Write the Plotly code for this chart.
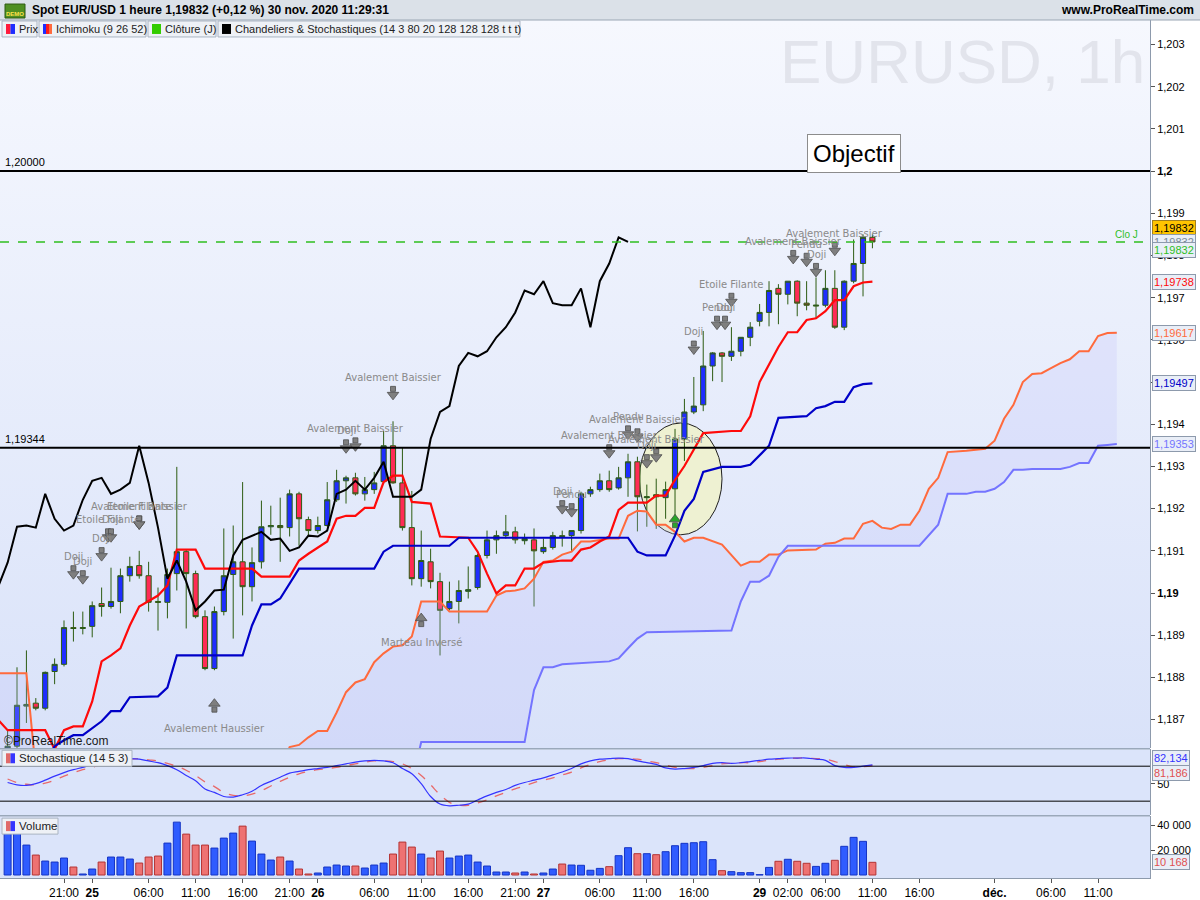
import base64
import plotly.graph_objects as go

# one bar per hour; bar 0 = Tue 24 Nov 21:00 (weekend hours skipped)
bars = list(range(-6, 87))

opens = [1.18621, 1.18637, 1.18732, 1.18739, 1.18727, 1.18814,
         1.18831, 1.18918, 1.18916, 1.18921, 1.18975, 1.18968, 1.18980, 1.19041, 1.19065, 1.19041,
         1.18980, 1.18978, 1.19046, 1.19098, 1.19046, 1.18944, 1.18821, 1.18956, 1.19044, 1.19074,
         1.19015, 1.19074, 1.19157, 1.19160, 1.19155, 1.19235, 1.19174, 1.19148, 1.19160, 1.19221,
         1.19266, 1.19273, 1.19235, 1.19245, 1.19264, 1.19349, 1.19261, 1.19155, 1.19034, 1.19074,
         1.19027, 1.18963, 1.18980, 1.19004, 1.19013, 1.19089, 1.19126, 1.19136, 1.19145, 1.19124,
         1.19126, 1.19098, 1.19108, 1.19136, 1.19136, 1.19148, 1.19235, 1.19245, 1.19266, 1.19249,
         1.19273, 1.19311, 1.19226, 1.19233, 1.19226, 1.19247, 1.19365, 1.19429, 1.19446, 1.19538,
         1.19569, 1.19561, 1.19573, 1.19606, 1.19644, 1.19665, 1.19722, 1.19708, 1.19739, 1.19687,
         1.19680, 1.19682, 1.19722, 1.19630, 1.19739, 1.19781, 1.19843]
highs = [1.18675, 1.18824, 1.18864, 1.18751, 1.18814, 1.18845,
         1.18935, 1.18956, 1.18956, 1.18980, 1.19013, 1.19060, 1.19058, 1.19086, 1.19100, 1.19074,
         1.19013, 1.19058, 1.19299, 1.19103, 1.19053, 1.18959, 1.18968, 1.19153, 1.19160, 1.19263,
         1.19108, 1.19219, 1.19207, 1.19226, 1.19245, 1.19240, 1.19181, 1.19181, 1.19263, 1.19292,
         1.19278, 1.19285, 1.19275, 1.19287, 1.19384, 1.19407, 1.19344, 1.19242, 1.19148, 1.19105,
         1.19048, 1.19027, 1.19030, 1.19063, 1.19093, 1.19148, 1.19148, 1.19185, 1.19157, 1.19141,
         1.19153, 1.19129, 1.19145, 1.19148, 1.19148, 1.19240, 1.19252, 1.19283, 1.19290, 1.19299,
         1.19330, 1.19323, 1.19257, 1.19271, 1.19264, 1.19389, 1.19460, 1.19512, 1.19621, 1.19571,
         1.19571, 1.19630, 1.19606, 1.19642, 1.19685, 1.19739, 1.19732, 1.19739, 1.19741, 1.19739,
         1.19748, 1.19765, 1.19765, 1.19741, 1.19838, 1.19850, 1.19850]
lows = [1.18609, 1.18628, 1.18692, 1.18722, 1.18722, 1.18784,
        1.18826, 1.18885, 1.18902, 1.18895, 1.18944, 1.18963, 1.18952, 1.19027, 1.19034, 1.18956,
        1.18911, 1.18940, 1.19006, 1.18916, 1.18940, 1.18817, 1.18817, 1.18947, 1.18892, 1.18947,
        1.18980, 1.19058, 1.19138, 1.19074, 1.19134, 1.19112, 1.19136, 1.19141, 1.19157, 1.19216,
        1.19212, 1.19231, 1.19219, 1.19235, 1.19259, 1.19259, 1.19148, 1.19018, 1.19015, 1.19011,
        1.18852, 1.18959, 1.18928, 1.18987, 1.19008, 1.19082, 1.19093, 1.19129, 1.19117, 1.19115,
        1.18968, 1.19093, 1.19103, 1.19110, 1.19098, 1.19141, 1.19228, 1.19240, 1.19240, 1.19245,
        1.19228, 1.19146, 1.19157, 1.19152, 1.19176, 1.19183, 1.19313, 1.19424, 1.19431, 1.19502,
        1.19500, 1.19550, 1.19561, 1.19585, 1.19632, 1.19632, 1.19637, 1.19684, 1.19656, 1.19670,
        1.19651, 1.19677, 1.19626, 1.19623, 1.19734, 1.19703, 1.19817]
closes = [1.18637, 1.18734, 1.18736, 1.18727, 1.18812, 1.18831,
          1.18918, 1.18916, 1.18918, 1.18970, 1.18968, 1.18980, 1.19041, 1.19063, 1.19041, 1.18978,
          1.18978, 1.19044, 1.19098, 1.19046, 1.18944, 1.18821, 1.18956, 1.19041, 1.19074, 1.19015,
          1.19072, 1.19157, 1.19160, 1.19155, 1.19235, 1.19176, 1.19148, 1.19160, 1.19221, 1.19266,
          1.19273, 1.19235, 1.19245, 1.19261, 1.19349, 1.19261, 1.19155, 1.19034, 1.19077, 1.19027,
          1.18959, 1.18980, 1.19006, 1.19008, 1.19089, 1.19126, 1.19136, 1.19145, 1.19126, 1.19129,
          1.19100, 1.19108, 1.19136, 1.19134, 1.19148, 1.19235, 1.19245, 1.19266, 1.19245, 1.19273,
          1.19311, 1.19228, 1.19228, 1.19228, 1.19245, 1.19365, 1.19429, 1.19443, 1.19538, 1.19569,
          1.19561, 1.19573, 1.19606, 1.19630, 1.19665, 1.19717, 1.19708, 1.19739, 1.19687, 1.19682,
          1.19682, 1.19722, 1.19630, 1.19739, 1.19781, 1.19843, 1.19832]
volumes = [33600, 33600, 24000, 16000, 11200, 10400,
           13600, 6400, 800, 4800, 10400, 14400, 14400, 12800, 9600, 14400,
           15200, 25600, 42400, 32800, 24000, 24000, 21600, 29600, 33600, 39200,
           27200, 16800, 12000, 14400, 11200, 4800, 800, 1600, 6400, 8000,
           7200, 7200, 5600, 8000, 9600, 16800, 26400, 22400, 16800, 13600,
           19200, 13600, 15200, 16000, 10400, 7200, 2400, 2400, 1600, 2400,
           800, 1600, 4800, 8800, 8000, 7800, 3800, 5300, 6700, 15500,
           21900, 17100, 17100, 16300, 18700, 23500, 25400, 25900, 26700, 12300,
           3500, 2700, 1900, 1900, 300, 6100, 11000, 12600, 11000, 9400,
           6900, 9400, 11800, 23000, 30200, 27000, 10168]
stoch_k = [52, 48, 47, 50, 56, 63,
           69, 74, 78, 83, 87, 91, 93, 93, 92, 89,
           86, 81, 74, 64, 55, 41, 35, 28, 27, 31,
           37, 47, 54, 61, 68, 71, 74, 76, 78, 81,
           84, 87, 89, 90, 89, 86, 76, 67, 50, 28,
           15, 12, 13, 15, 22, 29, 35, 40, 47, 52,
           56, 60, 65, 70, 76, 84, 89, 92, 93, 94,
           93, 89, 86, 83, 77, 75, 76, 78, 81, 85,
           86, 85, 86, 88, 90, 92, 93, 94, 94, 94,
           92, 90, 81, 78, 78, 80, 82.134]
stoch_d = [58, 52, 49, 48, 51, 56,
           63, 69, 74, 78, 83, 87, 90, 92, 93, 91,
           89, 85, 80, 73, 64, 53, 45, 35, 30, 29,
           32, 38, 46, 54, 61, 67, 71, 74, 76, 78,
           81, 84, 87, 89, 89, 88, 84, 76, 64, 48,
           31, 18, 13, 13, 17, 22, 29, 35, 41, 46,
           52, 56, 60, 65, 70, 77, 83, 88, 91, 93,
           93, 92, 89, 86, 82, 78, 76, 76, 78, 81,
           84, 85, 86, 86, 88, 90, 92, 93, 94, 94,
           93, 92, 88, 83, 79, 79, 81.186]

# Ichimoku lines (points where the line bends)
tenkan_x = [-7, -6, -2, -1, 0, 1, 2, 3, 4, 5, 6, 7, 8, 9, 10, 11, 12, 14, 15, 20, 21, 24, 25, 26, 28,
            29, 30, 31, 32, 33, 34, 35, 36, 37, 39, 40, 43, 44, 45, 46, 47, 48, 49, 50, 51, 53, 54,
            55, 56, 57, 58, 59, 60, 62, 63, 64, 65, 66, 67, 68, 71, 72, 73, 74, 76, 77, 78, 79, 80,
            81, 82, 83, 84, 85, 86]
tenkan_y = [1.18699, 1.18675, 1.18675, 1.18630, 1.18675, 1.18684, 1.18684, 1.18743, 1.18838, 1.18852,
            1.18869, 1.18923, 1.18968, 1.18980, 1.18994, 1.19018, 1.19103, 1.19103, 1.19058, 1.19058,
            1.19039, 1.19039, 1.19077, 1.19093, 1.19122, 1.19176, 1.19183, 1.19183, 1.19202, 1.19202,
            1.19263, 1.19278, 1.19278, 1.19216, 1.19212, 1.19134, 1.19131, 1.19098, 1.19046, 1.18999,
            1.19018, 1.19018, 1.19058, 1.19058, 1.19072, 1.19077, 1.19077, 1.19103, 1.19108, 1.19122,
            1.19134, 1.19197, 1.19214, 1.19214, 1.19231, 1.19231, 1.19268, 1.19301, 1.19341, 1.19379,
            1.19384, 1.19384, 1.19419, 1.19500, 1.19583, 1.19618, 1.19618, 1.19647, 1.19651, 1.19668,
            1.19694, 1.19694, 1.19727, 1.19736, 1.19738]
kijun_x = [-2, -1, 0, 1, 2, 3, 4, 5, 6, 7, 10, 11, 12, 19, 20, 21, 22, 23, 25, 33, 34, 35, 41, 42,
           60, 61, 62, 64, 65, 66, 67, 68, 70, 72, 73, 75, 76, 79, 80, 81, 82, 83, 84, 85, 86]
kijun_y = [1.18597, 1.18637, 1.18651, 1.18663, 1.18663, 1.18680, 1.18696, 1.18720, 1.18720, 1.18753,
           1.18755, 1.18776, 1.18852, 1.18852, 1.18923, 1.18973, 1.18973, 1.18987, 1.19058, 1.19058,
           1.19098, 1.19112, 1.19112, 1.19131, 1.19131, 1.19098, 1.19089, 1.19089, 1.19136, 1.19195,
           1.19223, 1.19287, 1.19299, 1.19299, 1.19304, 1.19349, 1.19415, 1.19419, 1.19438, 1.19443,
           1.19453, 1.19453, 1.19488, 1.19495, 1.19497]
ssa_x = [-7, -4, -3, 23, 24, 25, 26, 27, 28, 29, 30, 31, 32, 33, 34, 35, 36, 37, 38, 40, 41, 45, 46,
         47, 48, 49, 50, 51, 52, 53, 54, 55, 56, 57, 58, 59, 60, 61, 62, 63, 64, 65, 66, 67, 68, 70,
         72, 73, 74, 75, 76, 77, 80, 81, 82, 83, 84, 85, 86, 87, 88, 89, 90, 91, 92, 93, 94, 96, 97,
         98, 99, 100, 101, 102, 103, 104, 105, 106, 107, 108, 109, 110, 111, 112]
ssa_y = [1.18810, 1.18810, 1.18580, 1.18580, 1.18635, 1.18640, 1.18658, 1.18673, 1.18673, 1.18717,
         1.18765, 1.18788, 1.18796, 1.18836, 1.18857, 1.18873, 1.18876, 1.18897, 1.18980, 1.18980,
         1.18956, 1.18956, 1.18994, 1.19004, 1.19006, 1.19011, 1.19034, 1.19074, 1.19077, 1.19091,
         1.19098, 1.19122, 1.19122, 1.19126, 1.19129, 1.19129, 1.19183, 1.19195, 1.19193, 1.19162,
         1.19162, 1.19145, 1.19122, 1.19131, 1.19131, 1.19115, 1.19065, 1.19074, 1.19074, 1.19091,
         1.19091, 1.19101, 1.19103, 1.19117, 1.19119, 1.19129, 1.19129, 1.19164, 1.19171, 1.19155,
         1.19152, 1.19162, 1.19162, 1.19195, 1.19247, 1.19273, 1.19334, 1.19337, 1.19339, 1.19342,
         1.19361, 1.19413, 1.19446, 1.19500, 1.19519, 1.19521, 1.19533, 1.19545, 1.19554, 1.19573,
         1.19573, 1.19609, 1.19616, 1.19617]
ssb_x = [-7, 37, 38, 49, 50, 51, 52, 53, 58, 59, 60, 61, 62, 71, 72, 73, 74, 75, 76, 77, 91, 92, 93,
         94, 96, 97, 98, 99, 100, 101, 102, 103, 106, 107, 108, 109, 110, 111, 112]
ssb_y = [1.18550, 1.18550, 1.18647, 1.18647, 1.18770, 1.18824, 1.18824, 1.18831, 1.18838, 1.18845,
         1.18869, 1.18892, 1.18907, 1.18911, 1.18980, 1.19027, 1.19027, 1.19041, 1.19086, 1.19112,
         1.19112, 1.19136, 1.19162, 1.19235, 1.19235, 1.19240, 1.19240, 1.19247, 1.19263, 1.19292,
         1.19292, 1.19294, 1.19294, 1.19299, 1.19308, 1.19308, 1.19349, 1.19351, 1.19353]

# candle patterns: (bar, name, direction)
patterns = [
    (1, "Doji", "down"), (2, "Doji", "down"), (4, "Doji", "down"),
    (5, "Etoile Filante", "down"), (5, "Doji", "down"),
    (8, "Etoile Filante", "down"), (8, "Avalement Baissier", "down"),
    (16, "Avalement Haussier", "up"),
    (30, "Doji", "down"), (31, "Avalement Baissier", "down"),
    (35, "Avalement Baissier", "down"), (38, "Marteau Inversé", "up"),
    (53, "Doji", "down"), (54, "Pendu", "down"),
    (58, "Avalement Baissier", "down"), (60, "Pendu", "down"),
    (61, "Avalement Baissier", "down"), (62, "Doji", "down"),
    (63, "Avalement Baissier", "down"), (67, "Doji", "down"),
    (70, "Pendu", "down"), (70, "Doji", "down"), (71, "Etoile Filante", "down"),
    (78, "Avalement Baissier", "down"), (79, "Pendu", "down"), (80, "Doji", "down"),
    (82, "Avalement Baissier", "down"),
]
pattern_gap = [40, 35, 34, 33, 33, 29, 29, 36, 30, 29, 29, 34, 24, 21, 20, 22, 22, 24, 24, 30,
               30, 30, 28, 24, 22, 8, 22]
pattern_dx = [0, 0, 0, -3, 0, 0, 0, 0, 0, 0, 0, 0, 0, 0, 0, 0, 0, 0, 0, 0, -5, 3, 0, -4, 0, 0, 0]
buy_signal_bars = [65]

x_tick_bars = [0, 3, 9, 14, 19, 24, 27, 33, 38, 43, 48, 51, 57, 62, 67, 74, 77, 81, 86, 91, 99, 105, 110]
x_tick_text = ["21:00", "<b>25</b>", "06:00", "11:00", "16:00", "21:00", "<b>26</b>", "06:00", "11:00",
               "16:00", "21:00", "<b>27</b>", "06:00", "11:00", "16:00", "<b>29</b>", "02:00", "06:00",
               "11:00", "16:00", "<b>déc.</b>", "06:00", "11:00"]
price_ticks = [1.187, 1.188, 1.189, 1.190, 1.191, 1.192, 1.193, 1.194, 1.195, 1.196, 1.197, 1.198,
               1.199, 1.200, 1.201, 1.202, 1.203]
price_tick_text = ["1,187", "1,188", "1,189", "<b>1,19</b>", "1,191", "1,192", "1,193", "1,194", "1,195",
                   "1,196", "1,197", "1,198", "1,199", "<b>1,2</b>", "1,201", "1,202", "1,203"]

level_objectif = 1.20000
level_support = 1.19344
close_prev_day = 1.19832

# ---- geometry helpers (pixels -> paper)
W, H = 1200, 900
ML, MR, MT, MB = 0, 50, 20, 20
PW, PH = W - ML - MR, H - MT - MB
Y_RANGE = [1.18632, 1.20358]
X_RANGE = [-6.81, 115.53]


def paper_x(px):
    return (px - ML) / PW


def paper_y(py):
    return (H - MB - py) / PH


PRICE_PER_PX = (Y_RANGE[1] - Y_RANGE[0]) / (PH * (1 - paper_y(750)))
BAR_PER_PX = (X_RANGE[1] - X_RANGE[0]) / PW

FONT = "Liberation Sans, Arial, sans-serif"
up = [c >= o for o, c in zip(opens, closes)]

fig = go.Figure()

# kumo
fig.add_trace(go.Scatter(x=ssa_x + ssb_x[::-1], y=ssa_y + ssb_y[::-1], fill="toself",
                         fillcolor="rgba(185,185,250,0.22)", line=dict(width=0), hoverinfo="skip"))
fig.add_trace(go.Scatter(x=ssa_x, y=ssa_y, mode="lines", line=dict(color="#ff6a3d", width=2)))
fig.add_trace(go.Scatter(x=ssb_x, y=ssb_y, mode="lines", line=dict(color="#7474ff", width=2)))

fig.add_trace(go.Candlestick(
    x=bars, open=opens, high=highs, low=lows, close=closes, whiskerwidth=0,
    increasing=dict(fillcolor="#1f2dff", line=dict(color="#2d5c12", width=1)),
    decreasing=dict(fillcolor="#ff2b55", line=dict(color="#2d5c12", width=1)),
    hoverinfo="skip"))

fig.add_trace(go.Scatter(x=tenkan_x, y=tenkan_y, mode="lines", line=dict(color="#ff0a0a", width=2.2)))
fig.add_trace(go.Scatter(x=kijun_x, y=kijun_y, mode="lines", line=dict(color="#0000c8", width=2.2)))
fig.add_trace(go.Scatter(x=[b - 26 for b in bars], y=closes, mode="lines",
                         line=dict(color="#000000", width=2)))

# pattern arrows (block arrows = square shaft + triangle head)
ann = []
shaft_x, shaft_y, head_x, head_y, head_sym, arrow_col = [], [], [], [], [], []
for (b, name, kind), gap, dx in zip(patterns, pattern_gap, pattern_dx):
    i = bars.index(b)
    xb = b + dx * BAR_PER_PX
    sign = 1 if kind == "down" else -1
    base = highs[i] if kind == "down" else lows[i]
    yc = base + sign * gap * PRICE_PER_PX
    shaft_x.append(xb)
    shaft_y.append(yc + sign * 3.5 * PRICE_PER_PX)
    head_x.append(xb)
    head_y.append(yc - sign * 2.5 * PRICE_PER_PX)
    head_sym.append("triangle-down" if kind == "down" else "triangle-up")
    arrow_col.append("#7f7f7f")
    tsh = gap + 15 if kind == "down" else -gap - 22
    ann.append(dict(x=b, y=base, xref="x", yref="y", text=name, showarrow=False, yshift=tsh, xshift=dx,
                    font=dict(size=10, color="#8a8a8a", family="DejaVu Sans")))
for b in buy_signal_bars:
    i = bars.index(b)
    yc = lows[i] - 6 * PRICE_PER_PX
    shaft_x.append(b)
    shaft_y.append(yc - 3.5 * PRICE_PER_PX)
    head_x.append(b)
    head_y.append(yc + 2.5 * PRICE_PER_PX)
    head_sym.append("triangle-up")
    arrow_col.append("#2aa52a")

fig.add_trace(go.Scatter(x=shaft_x, y=shaft_y, mode="markers", hoverinfo="skip",
                         marker=dict(symbol="square", size=5, color=arrow_col,
                                     line=dict(color="#4d4d4d", width=0.8))))
fig.add_trace(go.Scatter(x=head_x, y=head_y, mode="markers", hoverinfo="skip",
                         marker=dict(symbol=head_sym, size=10, color=arrow_col,
                                     line=dict(color="#4d4d4d", width=0.8))))

# stochastic
fig.add_trace(go.Scatter(x=bars, y=stoch_d, yaxis="y2", mode="lines", line_shape="spline",
                         line=dict(color="#e86a6a", width=1.3, dash="dash")))
fig.add_trace(go.Scatter(x=bars, y=stoch_k, yaxis="y2", mode="lines", line_shape="spline",
                         line=dict(color="#3535ff", width=1.2)))

# volume
fig.add_trace(go.Bar(x=bars, y=volumes, yaxis="y3", width=0.74,
                     marker=dict(color=["#2f5cff" if u else "#ee7272" for u in up],
                                 line=dict(color=["#1534c4" if u else "#b43434" for u in up], width=1))))

grad_svg = ("<svg xmlns='http://www.w3.org/2000/svg' width='100' height='100' viewBox='0 0 100 100' "
            "preserveAspectRatio='none'><defs><linearGradient id='g' x1='0' y1='0' x2='0' y2='1'>"
            "<stop offset='0' stop-color='#f6f8fe'/><stop offset='1' stop-color='#d9e2f9'/>"
            "</linearGradient></defs><rect width='100' height='100' fill='url(#g)'/></svg>")
grad_src = "data:image/svg+xml;base64," + base64.b64encode(grad_svg.encode()).decode()


def px_rect(x0, x1, y0, y1, fill, line_col=None, layer="above"):
    return dict(type="rect", xref="paper", yref="paper", x0=paper_x(x0), x1=paper_x(x1),
                y0=paper_y(y1), y1=paper_y(y0), fillcolor=fill, layer=layer,
                line=dict(color=line_col, width=1) if line_col else dict(width=0))


shapes = [
    # header bar
    px_rect(0, W, 0, 20, "#dbe1e8"),
    dict(type="line", xref="paper", yref="paper", x0=paper_x(0), x1=paper_x(W), y0=paper_y(20),
         y1=paper_y(20), line=dict(color="#9aa6b4", width=1)),
    px_rect(5, 25, 4, 18, "#4f8f22", "#2d5a10"),
    # ellipse
    dict(type="circle", xref="x", yref="y", x0=61.2, x1=70.0, y0=1.19138, y1=1.19403,
         fillcolor="#eef1d2", line=dict(color="#202020", width=1), layer="below"),
    # levels
    dict(type="line", xref="paper", yref="y", x0=0, x1=1, y0=level_objectif, y1=level_objectif,
         line=dict(color="black", width=2)),
    dict(type="line", xref="paper", yref="y", x0=0, x1=1, y0=level_support, y1=level_support,
         line=dict(color="black", width=2)),
    dict(type="line", xref="paper", yref="y", x0=0, x1=1, y0=close_prev_day, y1=close_prev_day,
         line=dict(color="#2fbf1f", width=1.6, dash="dash")),
    # stochastic 80 / 20
    dict(type="line", xref="paper", yref="y2", x0=0, x1=1, y0=80, y1=80, line=dict(color="black", width=1)),
    dict(type="line", xref="paper", yref="y2", x0=0, x1=1, y0=20, y1=20, line=dict(color="black", width=1)),
    # pane separators
    dict(type="line", xref="paper", yref="paper", x0=0, x1=1, y0=paper_y(750.5), y1=paper_y(750.5),
         line=dict(color="#9aa8ba", width=1.5)),
    dict(type="line", xref="paper", yref="paper", x0=0, x1=1, y0=paper_y(817.5), y1=paper_y(817.5),
         line=dict(color="#9aa8ba", width=1.5)),
]


def txt(x, y, text, size=11, color="#000", xanchor="left", family=FONT, **kw):
    ann.append(dict(x=x, y=y, xref="paper", yref="paper", text=text, showarrow=False,
                    xanchor=xanchor, yanchor="middle", font=dict(size=size, color=color, family=family), **kw))


def tag(x0, x1, y0, y1, icon_cols, label, size=11):
    # a bordered label box with a small colour icon, in pixel units
    shapes.append(px_rect(x0, x1, y0, y1, "#eef1f6", "#aab4c2"))
    w = 9 / len(icon_cols)
    for k, c in enumerate(icon_cols):
        shapes.append(px_rect(x0 + 4 + k * w, x0 + 4 + (k + 1) * w, y0 + 3, y1 - 3, c))
    txt(paper_x(x0 + 15), paper_y((y0 + y1) / 2), label, size=size, color="#222")


# header
txt(paper_x(30), paper_y(10), "<b>Spot EUR/USD 1 heure 1,19832 (+0,12 %) 30 nov. 2020 11:29:31</b>", size=12)
txt(paper_x(1196), paper_y(10), "<b>www.ProRealTime.com</b>", size=12, xanchor="right")
txt(paper_x(15), paper_y(14), "<b>DEMO</b>", size=6, color="#ffe14a", xanchor="center")

# legend strip
tag(2, 37, 21, 37, ["#ff1a3c", "#1f2dff"], "Prix")
tag(39, 146, 21, 37, ["#1f2dff", "#ff1a1a", "#ff6a3d"], "Ichimoku (9 26 52)")
tag(148, 216, 21, 37, ["#33cc00"], "Clôture (J)")
tag(218, 520, 21, 37, ["#000000"], "Chandeliers & Stochastiques (14 3 80 20 128 128 128 t t t)")

# watermark
txt(paper_x(962), paper_y(62), "EURUSD, 1h", size=62, color="#e2e4ec", xanchor="center")

# level labels
ann.append(dict(x=0.003, xref="paper", y=level_objectif, yref="y", text="1,20000", showarrow=False,
                xanchor="left", yshift=9, font=dict(size=11, family=FONT, color="black")))
ann.append(dict(x=0.003, xref="paper", y=level_support, yref="y", text="1,19344", showarrow=False,
                xanchor="left", yshift=9, font=dict(size=11, family=FONT, color="black")))
ann.append(dict(x=paper_x(1140), xref="paper", y=close_prev_day, yref="y", text="Clo J", showarrow=False,
                xanchor="right", yshift=7, font=dict(size=10, family=FONT, color="#2fbf1f")))
ann.append(dict(x=84, y=1.20041, xref="x", yref="y", text="Objectif", showarrow=False,
                font=dict(size=24, family=FONT, color="black"), bgcolor="white",
                bordercolor="#8c8c8c", borderwidth=1, borderpad=5))

# value boxes on the right scale
vbox = dict(bgcolor="#e9eef7", bordercolor="#8d9aac", borderwidth=1, borderpad=1)
right_x = paper_x(1152)
for val, ref, shift, col, extra in [
    (close_prev_day, "y", 14, "#000000", dict(bgcolor="#ffc400", bordercolor="#a08020", borderwidth=1, borderpad=1)),
    (close_prev_day, "y", 0, "#7a8a9a", vbox),
    (close_prev_day, "y", -8, "#2fbf1f", vbox),
    (tenkan_y[-1], "y", 0, "#ff0a0a", vbox),
    (ssa_y[-1], "y", 0, "#ff6a3d", vbox),
    (kijun_y[-1], "y", 0, "#0000c8", vbox),
    (ssb_y[-1], "y", 0, "#7474ff", vbox),
    (stoch_k[-1], "y2", 7, "#3535ff", vbox),
    (stoch_d[-1], "y2", -7, "#e05050", vbox),
    (volumes[-1], "y3", 0, "#e05050", vbox),
]:
    if ref == "y":
        label = f"{val:.5f}".replace(".", ",")
    elif ref == "y2":
        label = f"{val:.3f}".replace(".", ",")
    else:
        label = f"{val:,.0f}".replace(",", " ")
    ann.append(dict(x=right_x, xref="paper", y=val, yref=ref, yshift=shift, text=label, showarrow=False,
                    xanchor="left", font=dict(size=11, family=FONT, color=col), **extra))

# pane titles
tag(2, 132, 752, 768, ["#e06a6a", "#3535ff"], "Stochastique (14 5 3)", size=11.5)
tag(2, 58, 820, 836, ["#e06a6a", "#3535ff"], "Volume", size=11.5)
txt(paper_x(2), paper_y(743), "©ProRealTime.com", size=12, color="#1a1a1a")

axis_common = dict(showgrid=False, zeroline=False, showline=True, linecolor="#8d9aac", linewidth=1,
                   ticks="outside", ticklen=4, tickcolor="#555", side="right",
                   tickfont=dict(size=11, family=FONT, color="black"))

fig.update_layout(
    width=W, height=H, margin=dict(l=ML, r=MR, t=MT, b=MB),
    paper_bgcolor="white", plot_bgcolor="#dbe4fa", showlegend=False, bargap=0.2, boxgap=0.22,
    font=dict(family=FONT, size=11, color="black"),
    xaxis=dict(domain=[0, 1], range=X_RANGE, anchor="y3", rangeslider=dict(visible=False),
               showgrid=False, zeroline=False, showline=True, linecolor="#8d9aac",
               tickmode="array", tickvals=x_tick_bars, ticktext=x_tick_text, ticks="outside",
               ticklen=4, tickcolor="#555", tickfont=dict(size=12, family=FONT, color="black")),
    yaxis=dict(domain=[paper_y(750), 1], range=Y_RANGE, anchor="x",
               tickmode="array", tickvals=price_ticks, ticktext=price_tick_text, **axis_common),
    yaxis2=dict(domain=[paper_y(817), paper_y(751)], range=[-4, 109], anchor="x",
                tickmode="array", tickvals=[50], ticktext=["50"], **axis_common),
    yaxis3=dict(domain=[0, paper_y(818)], range=[-2400, 47200], anchor="x",
                tickmode="array", tickvals=[20000, 40000], ticktext=["20 000", "40 000"], **axis_common),
    shapes=shapes, annotations=ann,
    images=[dict(source=grad_src, xref="paper", yref="paper", x=0, y=1, sizex=1, sizey=1 - paper_y(750),
                 xanchor="left", yanchor="top", sizing="stretch", layer="below")],
)

# the page is photographed at exactly 1200x900: drop the default body margin and the toolbar
fig.write_html("out.html", config={"displayModeBar": False},
               post_script="document.body.style.margin='0px';")
